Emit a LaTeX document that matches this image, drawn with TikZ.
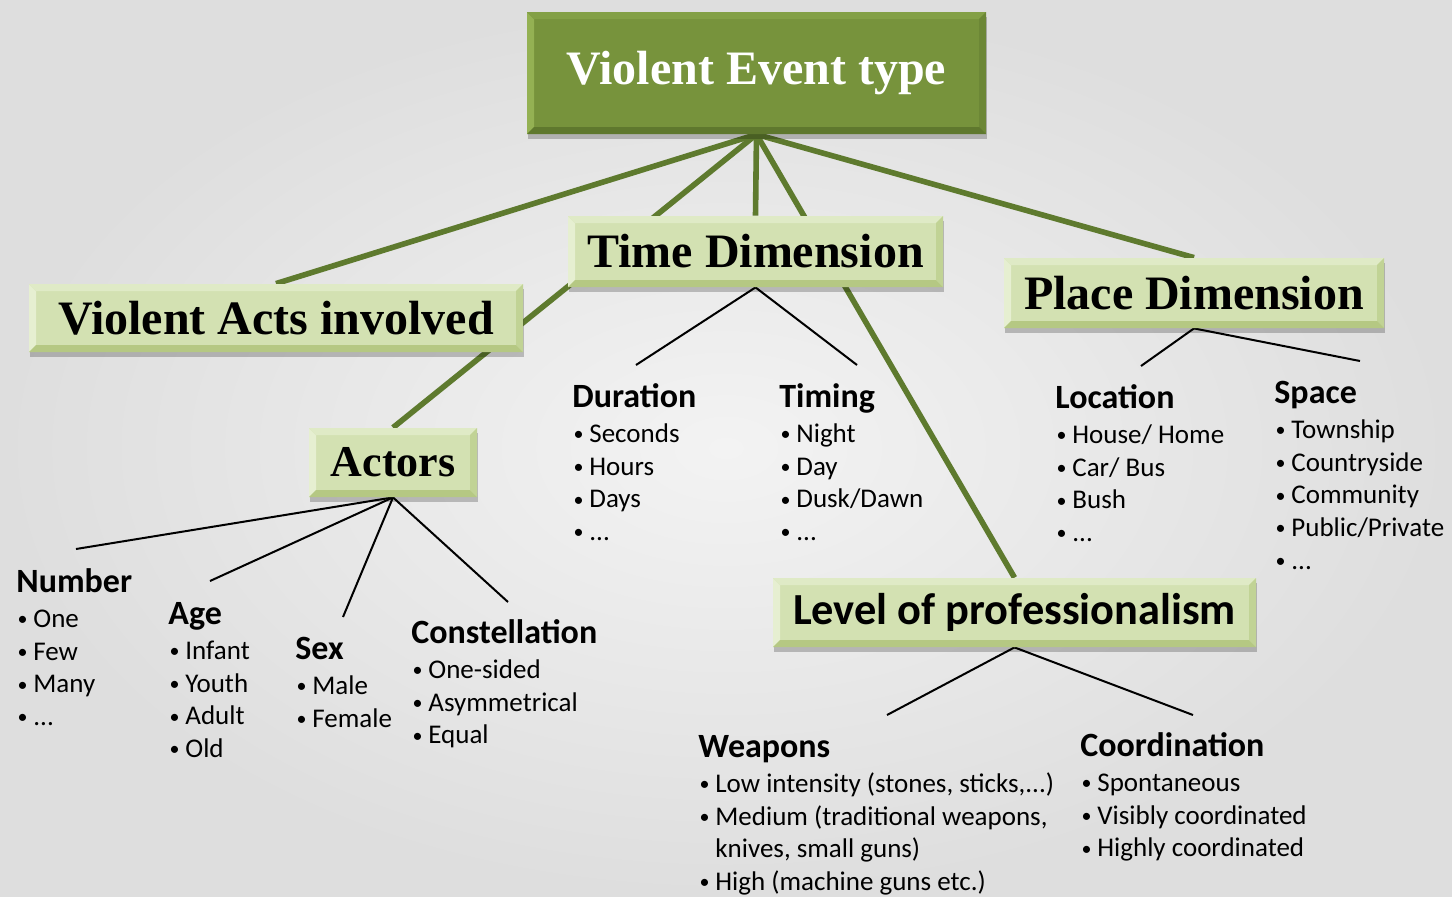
\documentclass[tikz,border=0pt]{standalone}
\usepackage{fontspec}
\setmainfont{Carlito}
\newfontfamily\ttlfont{Liberation Serif}
\usetikzlibrary{shadows}
\pgfdeclarelayer{back}
\pgfdeclarelayer{mid}
\pgfsetlayers{back,mid,main}

\definecolor{bgin}{HTML}{F3F3F3}
\definecolor{bgout}{HTML}{DEDEDE}
\definecolor{lfill}{HTML}{D3E1B2}
\definecolor{lbL}{HTML}{E6EFD1}
\definecolor{lbT}{HTML}{DFEAC6}
\definecolor{lbR}{HTML}{C1D395}
\definecolor{lbB}{HTML}{B5C883}
\definecolor{dfill}{HTML}{77933C}
\definecolor{dbL}{HTML}{94B153}
\definecolor{dbT}{HTML}{83A046}
\definecolor{dbR}{HTML}{6C8736}
\definecolor{dbB}{HTML}{5F782E}
\definecolor{olive}{HTML}{5E7A2E}

\def\bvl{3.5pt}
\newcommand\itm[1]{\hbox{\makebox[8.5pt][l]{\hspace{0.6pt}\raisebox{0.9pt}{\fontsize{10}{10}\selectfont\textbullet}}#1}}
\newcommand\tblk[2]{\vtop{\fontsize{13.5}{16.3}\selectfont\lineskiplimit=-30pt\lineskip=0pt
  \hbox{\fontsize{17}{20}\selectfont\bfseries #1}\vskip1.5pt #2}}

\tikzset{
  bevel/.style n args={4}{path picture={
    \fill[#1] (path picture bounding box.north west) -- (path picture bounding box.south west)
      -- ([xshift=\bvl,yshift=\bvl]path picture bounding box.south west)
      -- ([xshift=\bvl,yshift=-\bvl]path picture bounding box.north west) -- cycle;
    \fill[#2] (path picture bounding box.north west) -- (path picture bounding box.north east)
      -- ([xshift=-\bvl,yshift=-\bvl]path picture bounding box.north east)
      -- ([xshift=\bvl,yshift=-\bvl]path picture bounding box.north west) -- cycle;
    \fill[#3] (path picture bounding box.north east) -- (path picture bounding box.south east)
      -- ([xshift=-\bvl,yshift=\bvl]path picture bounding box.south east)
      -- ([xshift=-\bvl,yshift=-\bvl]path picture bounding box.north east) -- cycle;
    \fill[#4] (path picture bounding box.south west) -- (path picture bounding box.south east)
      -- ([xshift=-\bvl,yshift=\bvl]path picture bounding box.south east)
      -- ([xshift=\bvl,yshift=\bvl]path picture bounding box.south west) -- cycle;
  }},
  boxbase/.style={rectangle, inner sep=0pt,
    drop shadow={shadow xshift=0.6pt, shadow yshift=-2.6pt, opacity=0.22, fill=black}},
  lbox/.style={boxbase, fill=lfill, text=black, bevel={lbL}{lbT}{lbR}{lbB},
    font=\fontsize{24}{28}\selectfont\ttlfont\bfseries},
  dbox/.style={boxbase, fill=dfill, text=white, bevel={dbL}{dbT}{dbR}{dbB},
    font=\fontsize{24}{28}\selectfont\ttlfont\bfseries},
  thk/.style={draw=olive, line width=2.8pt},
  thn/.style={draw=black, line width=1pt},
  blk/.style={anchor=base west, inner sep=0pt, text=black}
}

\begin{document}
\begin{tikzpicture}[x=0.5pt,y=-0.5pt]
\useasboundingbox (0,0) rectangle (1452,896);
\begin{pgfonlayer}{back}
\shade[inner color=bgin, outer color=bgout] (0,0) rectangle (1452,896);
\end{pgfonlayer}

% boxes
\node[dbox, minimum width=229.5pt, minimum height=61pt] (top) at (756.5,73) {Violent Event type};
\node[lbox, minimum width=187.5pt, minimum height=35.5pt] (time) at (755.5,251.5) {Time Dimension};
\node[lbox, minimum width=190pt, minimum height=35pt] (place) at (1194,293) {Place Dimension};
\node[lbox, minimum width=247pt, minimum height=34pt] (va) at (276,318) {Violent Acts involved};
\node[lbox, minimum width=84pt, minimum height=34.5pt, font=\fontsize{22}{26}\selectfont\ttlfont\bfseries] (actors) at (393,462.5) {Actors};
\node[lbox, minimum width=241.5pt, minimum height=34.5pt, font=\fontsize{22.2}{26}\selectfont\bfseries] (lop) at (1014.5,612.5) {Level of professionalism};

% free ends of thin connectors
\coordinate (tdL) at (636,365);
\coordinate (tdR) at (857,365);
\coordinate (pdL) at (1141,366);
\coordinate (pdR) at (1360,361);
\coordinate (acA) at (76,549);
\coordinate (acB) at (210,581);
\coordinate (acC) at (343,617);
\coordinate (acD) at (508,602);
\coordinate (lpL) at (887,715);
\coordinate (lpR) at (1193,715);

\begin{pgfonlayer}{mid}
\draw[thk] (top.south) -- (va.north);
\draw[thk] (top.south) -- (actors.north);
\draw[thk] (top.south) -- (time.north);
\draw[thk] (top.south) -- (lop.north);
\draw[thk] (top.south) -- (place.north);
\draw[thn] (time.south) -- (tdL);
\draw[thn] (time.south) -- (tdR);
\draw[thn] (place.south) -- (pdL);
\draw[thn] (place.south) -- (pdR);
\draw[thn] (actors.south) -- (acA);
\draw[thn] (actors.south) -- (acB);
\draw[thn] (actors.south) -- (acC);
\draw[thn] (actors.south) -- (acD);
\draw[thn] (lop.south) -- (lpL);
\draw[thn] (lop.south) -- (lpR);
\end{pgfonlayer}

% text blocks
\node[blk] (num) at (16,592) {\tblk{Number}{\itm{One}\itm{Few}\itm{Many}\itm{...}}};
\node[blk] (age) at (168,624) {\tblk{Age}{\itm{Infant}\itm{Youth}\itm{Adult}\itm{Old}}};
\node[blk] (sex) at (295,659) {\tblk{Sex}{\itm{Male}\itm{Female}}};
\node[blk] (con) at (411,643) {\tblk{Constellation}{\itm{One-sided}\itm{Asymmetrical}\itm{Equal}}};
\node[blk] (dur) at (572,407) {\tblk{Duration}{\itm{Seconds}\itm{Hours}\itm{Days}\itm{...}}};
\node[blk] (tim) at (779,407) {\tblk{Timing}{\itm{Night}\itm{Day}\itm{Dusk/Dawn}\itm{...}}};
\node[blk] (loc) at (1055,408) {\tblk{Location}{\itm{House/ Home}\itm{Car/ Bus}\itm{Bush}\itm{...}}};
\node[blk] (spa) at (1274,403) {\tblk{Space}{\itm{Township}\itm{Countryside}\itm{Community}\itm{Public/Private}\itm{...}}};
\node[blk] (wea) at (698,757) {\tblk{Weapons}{\itm{Low intensity (stones, sticks,...)}\itm{Medium (traditional weapons,}\hbox{\hspace{8.5pt}knives, small guns)}\itm{High (machine guns etc.)}}};
\node[blk] (coo) at (1080,756) {\tblk{Coordination}{\itm{Spontaneous}\itm{Visibly coordinated}\itm{Highly coordinated}}};
\end{tikzpicture}
\end{document}
